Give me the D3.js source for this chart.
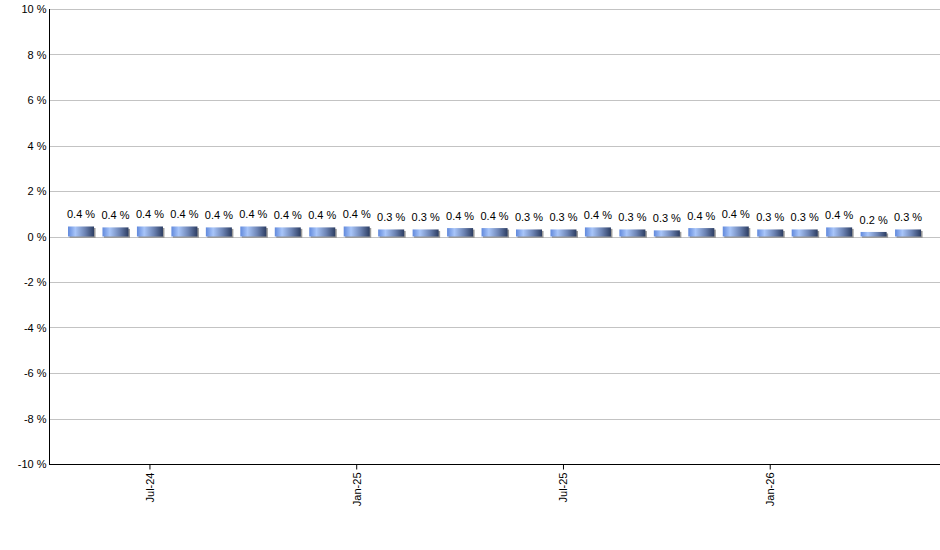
<!DOCTYPE html>
<html>
<head>
<meta charset="utf-8">
<script src="https://cdn.jsdelivr.net/npm/d3@7"></script>
<style>
  html, body { margin: 0; padding: 0; background: #fff; }
  svg { display: block; font-family: "Liberation Sans", Arial, sans-serif; }
</style>
</head>
<body>
<svg id="chart" width="940" height="550"></svg>
<script>
// ---- data ----
const months = ["May-24","Jun-24","Jul-24","Aug-24","Sep-24","Oct-24","Nov-24","Dec-24",
  "Jan-25","Feb-25","Mar-25","Apr-25","May-25","Jun-25","Jul-25","Aug-25","Sep-25","Oct-25",
  "Nov-25","Dec-25","Jan-26","Feb-26","Mar-26","Apr-26","May-26"];
const values = [0.44,0.40,0.44,0.44,0.40,0.44,0.40,0.40,0.44,0.31,0.31,0.37,0.37,0.31,0.31,
  0.40,0.31,0.27,0.37,0.44,0.31,0.31,0.40,0.20,0.31];
const tickMonths = ["Jul-24","Jan-25","Jul-25","Jan-26"];
const yTicks = [-10,-8,-6,-4,-2,0,2,4,6,8,10];

// ---- layout ----
const svg = d3.select("#chart");
const plotLeft = 49, plotRight = 940, plotTop = 9, plotBottom = 464;

const x = d3.scaleBand().domain(months).range([63.8, 925.3]).paddingInner(0.245).paddingOuter(0.1225);
const y = d3.scaleLinear().domain([-10, 10]).range([plotBottom, plotTop]);

// gradient
const defs = svg.append("defs");
const grad = defs.append("linearGradient").attr("id", "barGrad")
  .attr("x1", "0%").attr("x2", "100%").attr("y1", "0%").attr("y2", "0%");
grad.append("stop").attr("offset", "0%").attr("stop-color", "#6189dc");
grad.append("stop").attr("offset", "28%").attr("stop-color", "#a8c5f9");
grad.append("stop").attr("offset", "65%").attr("stop-color", "#6d84b4");
grad.append("stop").attr("offset", "100%").attr("stop-color", "#2c3d62");

// gridlines
svg.append("g").selectAll("line").data(yTicks).join("line")
  .attr("x1", plotLeft).attr("x2", plotRight)
  .attr("y1", d => Math.round(y(d)) + 0.5).attr("y2", d => Math.round(y(d)) + 0.5)
  .attr("stroke", "#c3c3c3").attr("stroke-width", 1);

// y axis
const yAxis = d3.axisLeft(y).tickValues(yTicks).tickSize(0).tickPadding(3).tickFormat(d => d + " %");
const gy = svg.append("g").attr("transform", `translate(${plotLeft + 0.5},0)`).call(yAxis);
gy.select(".domain").attr("stroke", "#000").attr("d", `M0,${plotTop}V${plotBottom}`);
gy.selectAll(".tick text").attr("font-size", 11).attr("fill", "#000")
  .attr("font-family", "'Liberation Sans', Arial, sans-serif");

// bars (shadow + bar)
const bars = svg.append("g");
bars.selectAll("rect.shadow").data(values).join("rect").attr("class", "shadow")
  .attr("x", (d, i) => x(months[i]) + 1.5)
  .attr("y", d => y(d) + 1.5)
  .attr("width", x.bandwidth())
  .attr("height", d => y(0) - y(d))
  .attr("fill", "#9a9a9a");
bars.selectAll("rect.bar").data(values).join("rect").attr("class", "bar")
  .attr("x", (d, i) => x(months[i]))
  .attr("y", d => y(d))
  .attr("width", x.bandwidth())
  .attr("height", d => y(0) - y(d))
  .attr("fill", "url(#barGrad)");

// data labels
svg.append("g").selectAll("text").data(values).join("text")
  .attr("x", (d, i) => x(months[i]) + x.bandwidth() / 2)
  .attr("y", d => y(d) - 8)
  .attr("text-anchor", "middle")
  .attr("font-size", 11).attr("fill", "#000")
  .text(d => d.toFixed(1) + " %");

// x axis
const xAxis = d3.axisBottom(x).tickValues(tickMonths).tickSize(5).tickSizeOuter(0);
const gx = svg.append("g").attr("transform", `translate(0,${plotBottom + 0.5})`).call(xAxis);
gx.select(".domain").attr("stroke", "#000").attr("d", `M${plotLeft},0H${plotRight}`);
gx.selectAll(".tick line").attr("stroke", "#000");
gx.selectAll(".tick text")
  .attr("font-size", 11).attr("fill", "#000")
  .attr("font-family", "'Liberation Sans', Arial, sans-serif")
  .attr("text-anchor", "end")
  .attr("transform", "rotate(-90)")
  .attr("x", -8).attr("y", 0).attr("dy", "0.35em");
</script>
</body>
</html>
